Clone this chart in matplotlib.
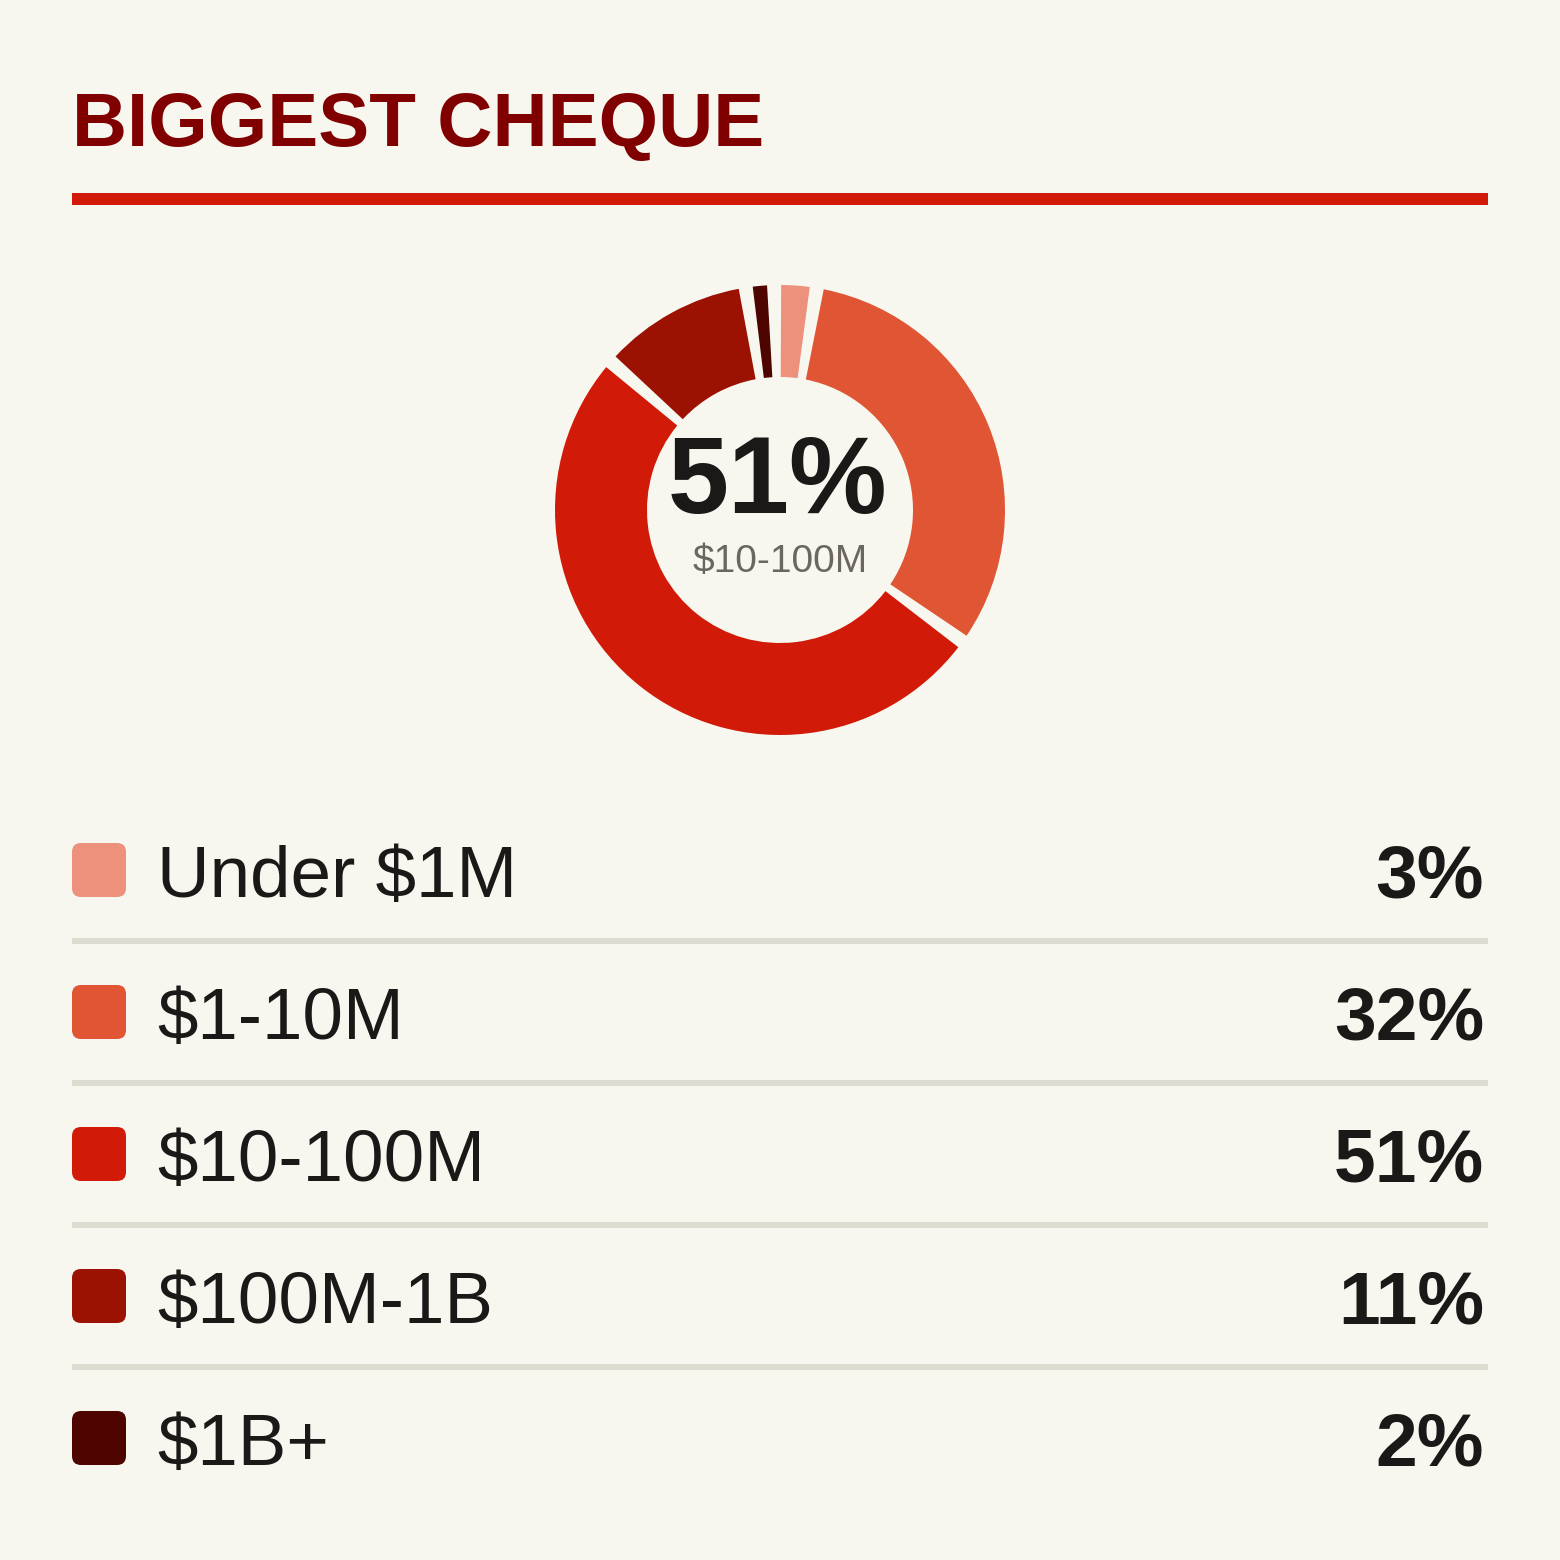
import matplotlib
matplotlib.use("Agg")
import matplotlib.pyplot as plt
from matplotlib.patches import FancyBboxPatch, Rectangle

# ---- data ----
categories = ["Under $1M", "$1-10M", "$10-100M", "$100M-1B", "$1B+"]
values = [3, 32, 51, 11, 2]
value_labels = ["3%", "32%", "51%", "11%", "2%"]
colors = ["#ED907C", "#E05533", "#D11A08", "#9B1203", "#4E0500"]
title = "BIGGEST CHEQUE"
center_value = "51%"
center_label = "$10-100M"

BG = "#F8F7EF"
TXT = "#1A1917"
FONT = "Liberation Sans"
GAP_DEG = 3.6  # angular padding between slices

W = H = 1560
fig = plt.figure(figsize=(15.6, 15.6), dpi=100, facecolor=BG)

# full-figure pixel axes
ax = fig.add_axes([0, 0, 1, 1])
ax.set_xlim(0, W)
ax.set_ylim(H, 0)
ax.axis("off")
ax.set_facecolor(BG)

# title
ax.text(72, 146, title, fontsize=55, fontweight="bold", color="#800000",
        family=FONT, ha="left", va="baseline")
ax.add_patch(Rectangle((72, 193), 1416, 12, color="#D11A08", lw=0))

# donut with angular gaps between slices
total = sum(values)
seq, seq_colors = [GAP_DEG / 2], ["none"]
for i, (v, c) in enumerate(zip(values, colors)):
    seq.append(v / total * 360 - GAP_DEG)
    seq_colors.append(c)
    seq.append(GAP_DEG if i < len(values) - 1 else GAP_DEG / 2)
    seq_colors.append("none")

cx, cy, R = 780, 510, 225
pax = fig.add_axes([(cx - R) / W, (H - cy - R) / H, 2 * R / W, 2 * R / H])
wedges, _ = pax.pie(seq, colors=seq_colors, startangle=91.5, counterclock=False,
                    radius=1, wedgeprops=dict(width=92 / 225, linewidth=0))
pax.set_xlim(-1, 1)
pax.set_ylim(-1, 1)
pax.set_aspect("equal")
pax.axis("off")

ax.text(777, 513, center_value, fontsize=79, fontweight="bold", color=TXT,
        family=FONT, ha="center", va="baseline", zorder=5)
ax.text(780, 572, center_label, fontsize=28, color="#6B6660",
        family=FONT, ha="center", va="baseline", zorder=5)

# legend rows
for i, (cat, lab, col) in enumerate(zip(categories, value_labels, colors)):
    top = 843 + 142 * i
    ax.add_patch(FancyBboxPatch((72, top), 54, 54,
                                boxstyle="round,pad=0,rounding_size=9",
                                fc=col, ec="none"))
    ax.text(157, top + 54, cat, fontsize=52.5, color=TXT, family=FONT,
            ha="left", va="baseline")
    ax.text(1484, top + 54, lab, fontsize=54, fontweight="bold", color=TXT,
            family=FONT, ha="right", va="baseline")
    if i < len(categories) - 1:
        ax.add_patch(Rectangle((72, top + 95), 1416, 6, color="#DDDCD0", lw=0))

fig.savefig("out.png", dpi=100, facecolor=BG)
